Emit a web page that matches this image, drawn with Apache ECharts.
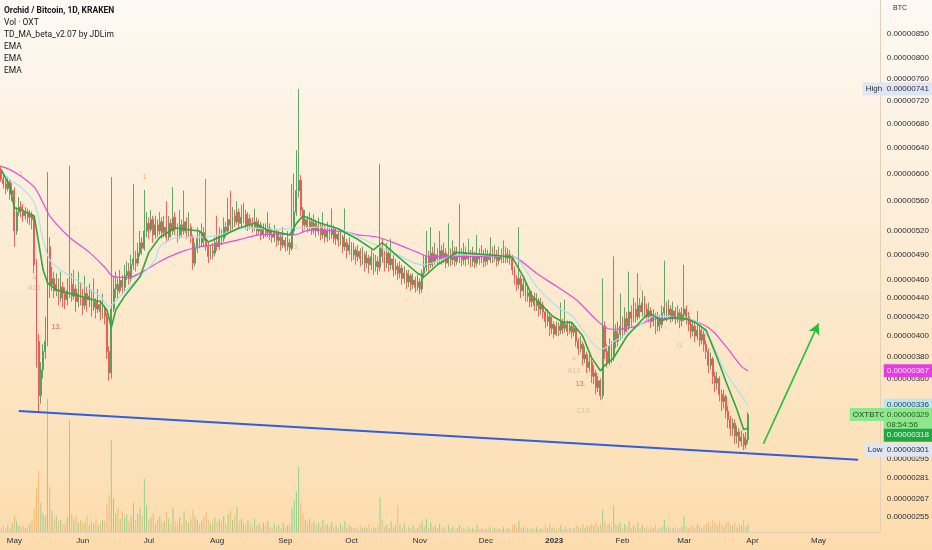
<!DOCTYPE html>
<html><head><meta charset="utf-8">
<script src="https://cdn.jsdelivr.net/npm/echarts@6/dist/echarts.min.js"></script>
<style>html,body{margin:0;padding:0;background:#fdf6ea}#c{width:932px;height:550px}</style>
</head><body><div id="c"></div><script>
// ---------- DATA (prices in units of 0.00000001 BTC) ----------
const startDay = '2022-04-25';
const firstOpen = 606;
const closes = [
592,585,578,588,570,575,520,545,552,548, 540,545,538,542,535,478,395,345,368,385,
395,500,455,462,448,455,440,452,445,438, 448,455,442,450,436,445,440,432,445,438,
442,430,436,428,433,425,428,420,385,365, 428,450,455,448,460,452,465,470,462,478,
485,480,492,505,498,520,530,522,535,515, 528,520,532,518,525,512,530,520,538,522,
515,528,520,532,518,525,512,480,498,510, 505,518,508,500,488,495,492,505,500,515,
510,525,520,535,528,540,532,545,530,538, 542,528,536,530,525,532,520,528,515,522,
518,524,515,512,518,508,512,502,508,500, 505,498,520,545,575,590,548,528,535,525,
532,522,530,520,526,515,522,512,520,515, 522,510,516,508,512,500,505,495,502,490,
496,488,494,485,490,480,486,478,488,476, 482,475,500,488,480,492,478,485,472,476,
468,474,462,468,458,465,455,460,452,458, 450,468,475,488,478,492,482,490,485,495,
486,492,480,490,484,494,482,488,490,484, 492,485,490,482,488,480,491,485,490,482,
488,484,492,486,490,483,488,485,491,486, 490,485,472,462,455,462,448,455,442,446,
436,440,432,436,428,432,425,415,420,408, 412,402,410,406,414,408,412,405,410,404,
408,395,388,392,378,382,370,375,362,365, 352,358,345,410,385,375,390,380,405,395,
402,410,405,418,410,425,418,428,420,432, 425,435,428,420,426,415,420,410,418,412,
424,430,422,428,420,426,418,424,416,422, 428,420,412,405,410,400,406,396,402,392,
385,372,378,362,356,360,346,340,344,332, 325,318,322,312,315,308,311,305,309,329];
const highs = [
612,598,590,596,592,586,580,552,566,560, 556,552,550,548,546,540,485,402,375,392,
420,602,512,475,470,468,462,470,458,452, 462,612,468,472,455,470,458,450,465,452,
456,448,462,440,450,438,445,432,424,390, 595,465,470,462,472,466,478,482,480,490,
585,495,505,520,512,576,545,538,548,540, 540,535,545,538,540,560,540,536,580,545,
530,548,535,575,538,545,530,515,505,525, 520,530,525,592,505,502,505,512,540,525,
522,538,532,565,575,552,548,560,550,555, 558,548,545,542,538,550,538,535,532,530,
530,545,530,522,528,522,520,515,525,512, 520,510,585,600,636,741,598,552,548,540,
545,538,542,535,538,530,545,528,532,528, 550,528,525,520,522,515,550,510,512,506,
505,500,502,498,500,494,495,490,496,492, 490,488,615,510,495,505,498,510,490,485,
480,482,478,476,472,472,468,468,464,466, 462,472,490,520,495,525,500,505,498,520,
502,505,498,530,498,508,500,500,556,498, 505,500,510,496,500,494,515,498,502,496,
498,496,512,500,502,496,500,498,508,500, 498,496,490,476,466,525,466,462,458,455,
450,448,446,445,440,440,436,428,428,424, 420,415,415,414,435,418,438,416,415,414,
412,410,398,400,395,390,385,382,378,372, 368,362,360,462,415,392,398,395,488,412,
415,445,420,430,425,470,432,440,435,468, 440,448,442,434,435,430,428,424,425,422,
432,483,436,438,432,436,430,432,428,430, 478,432,425,418,416,414,426,410,408,406,
396,388,384,380,366,366,362,350,350,346, 336,328,326,325,320,318,316,314,315,331];
const lows = [
588,578,570,574,562,560,500,515,540,538, 532,535,530,528,522,468,370,331,338,360,
378,390,440,448,440,442,432,436,430,428, 432,440,436,438,425,430,432,422,428,425,
430,420,426,418,424,416,418,412,378,358, 360,425,440,438,445,444,448,460,455,458,
472,470,476,488,490,495,512,510,518,505, 510,512,515,510,512,505,508,512,515,515,
505,510,512,515,510,512,505,472,476,492, 498,500,500,495,480,484,485,488,495,496,
502,506,512,515,520,522,525,528,524,525, 530,522,520,522,518,520,514,515,508,510,
512,512,508,505,506,500,502,495,498,494, 495,490,495,515,540,565,540,518,522,518,
520,515,516,512,514,508,510,505,506,508, 510,504,502,500,502,492,495,486,490,482,
484,478,482,476,478,470,474,468,472,466, 470,466,470,480,470,474,470,472,464,466,
460,462,455,456,450,452,448,450,446,448, 444,446,462,470,470,474,475,478,478,480,
478,480,474,476,476,478,476,478,480,476, 478,476,478,475,476,474,476,478,480,475,
476,478,480,480,482,476,478,480,480,480, 480,478,466,455,448,450,440,442,436,436,
430,430,426,426,420,422,418,408,410,400, 402,398,400,400,402,402,404,400,402,398,
400,390,382,384,372,374,365,366,356,355, 346,348,341,342,378,370,372,374,376,388,
390,396,398,402,404,406,410,414,414,416, 418,420,420,414,414,408,410,402,405,405,
408,418,415,418,414,415,412,414,408,410, 415,412,405,398,400,394,396,390,392,385,
378,365,368,355,348,350,340,332,334,326, 318,312,312,306,306,303,304,301,302,306];
const volumes = [
3,4,2,5,3,6,12,8,5,4, 5,3,4,6,9,18,33,46,22,14, 12,100,34,16,10,12,8,9,6,7,
11,84,14,10,12,7,9,6,8,12, 5,8,6,10,5,7,9,8,21,28, 69,25,14,18,10,16,11,13,8,12,
22,9,14,18,12,40,20,9,11,14, 6,9,12,7,8,15,10,6,18,8, 7,11,6,16,9,7,10,17,12,9,
6,8,12,15,9,6,8,11,7,10, 8,12,6,14,17,9,13,19,8,10, 7,5,9,6,4,10,5,6,4,7,
5,8,4,3,6,4,5,3,7,4, 5,6,18,24,30,49,22,14,9,7, 10,6,8,5,7,4,9,5,6,4,
7,4,5,3,6,4,8,3,5,4, 3,4,2,5,3,4,3,6,2,4, 3,5,26,9,4,6,3,8,4,5,
20,5,3,6,2,4,3,5,2,3, 6,8,4,10,3,7,4,5,3,6, 3,4,2,5,3,4,2,3,5,2,
3,2,4,2,3,2,5,2,3,2, 2,3,4,2,3,2,3,2,4,2, 3,2,5,6,4,8,3,4,2,3,
2,3,2,4,2,3,2,5,3,6, 3,4,2,3,5,2,4,2,3,2, 3,5,4,3,6,3,5,4,6,5,
7,4,6,17,8,5,6,4,20,6, 5,7,3,6,4,8,3,5,4,7, 3,5,3,4,2,4,3,5,2,3,
4,9,3,4,2,3,4,2,3,4, 12,4,3,5,4,3,6,4,3,5, 6,8,4,9,7,5,8,6,4,7,
8,6,5,7,4,6,5,9,4,6];
const priceTicks = [850,800,760,720,680,640,600,560,520,490,460,440,420,400,380,360,340,310,295,281,267,255];
const monthNames = ['Jan','Feb','Mar','Apr','May','Jun','Jul','Aug','Sep','Oct','Nov','Dec'];
const emaSlow = [['2022-04-25',611],['2022-04-29',606],['2022-05-04',596],['2022-05-10',580],['2022-05-14',558],['2022-05-17',540],['2022-05-26',512],['2022-06-04',493],['2022-06-11',475],['2022-06-15',464],['2022-06-22',463],['2022-06-27',468],['2022-07-01',474],['2022-07-06',482],['2022-07-15',493],['2022-07-24',500],['2022-08-02',503],['2022-08-11',509],['2022-08-20',515],['2022-08-29',516],['2022-09-05',515],['2022-09-12',521],['2022-09-16',521],['2022-09-30',518],['2022-10-04',515],['2022-10-13',512],['2022-10-22',503],['2022-10-31',493],['2022-11-05',488],['2022-11-14',488],['2022-12-11',488],['2022-12-15',486],['2022-12-24',468],['2023-01-02',453],['2023-01-11',438],['2023-01-20',417],['2023-01-25',408],['2023-01-29',407],['2023-02-07',410],['2023-02-16',418],['2023-02-25',418],['2023-03-06',415],['2023-03-13',407],['2023-03-20',390],['2023-03-27',371],['2023-03-30',367]];
const emaMid = [['2022-04-25',605],['2022-04-29',591],['2022-05-04',580],['2022-05-10',558],['2022-05-14',509],['2022-05-17',484],['2022-05-22',472],['2022-05-31',457],['2022-06-09',442],['2022-06-13',431],['2022-06-18',442],['2022-06-27',464],['2022-07-04',484],['2022-07-06',500],['2022-07-15',512],['2022-07-24',512],['2022-08-02',515],['2022-08-15',524],['2022-08-29',522],['2022-09-07',524],['2022-09-16',525],['2022-09-25',523],['2022-10-09',506],['2022-10-22',490],['2022-11-02',478],['2022-11-09',482],['2022-11-18',490],['2022-12-11',488],['2022-12-15',486],['2022-12-24',453],['2023-01-02',431],['2023-01-09',421],['2023-01-16',400],['2023-01-22',387],['2023-01-29',396],['2023-02-07',408],['2023-02-16',421],['2023-02-25',419],['2023-03-06',416],['2023-03-13',396],['2023-03-20',365],['2023-03-27',345],['2023-03-30',336]];
const emaFast = [['2022-04-25',606],['2022-04-29',580],['2022-05-01',551],['2022-05-04',548],['2022-05-10',540],['2022-05-12',505],['2022-05-14',472],['2022-05-16',457],['2022-05-20',449],['2022-05-31',442],['2022-06-09',436],['2022-06-12',427],['2022-06-14',409],['2022-06-16',427],['2022-06-20',442],['2022-06-27',464],['2022-07-01',493],['2022-07-06',512],['2022-07-13',524],['2022-07-24',520],['2022-07-28',506],['2022-08-02',512],['2022-08-11',524],['2022-08-18',530],['2022-08-24',521],['2022-09-03',515],['2022-09-06',530],['2022-09-09',540],['2022-09-16',531],['2022-09-25',523],['2022-10-04',509],['2022-10-11',496],['2022-10-15',505],['2022-10-22',488],['2022-10-31',468],['2022-11-03',464],['2022-11-09',478],['2022-11-18',493],['2022-12-11',488],['2022-12-13',487],['2022-12-18',464],['2022-12-22',442],['2022-12-27',431],['2022-12-31',421],['2023-01-05',414],['2023-01-09',414],['2023-01-14',400],['2023-01-18',379],['2023-01-22',367],['2023-01-24',372],['2023-01-28',379],['2023-02-03',400],['2023-02-10',417],['2023-02-13',424],['2023-02-19',416],['2023-02-23',419],['2023-03-02',418],['2023-03-06',414],['2023-03-11',406],['2023-03-16',379],['2023-03-20',357],['2023-03-25',333],['2023-03-28',317],['2023-03-30',318]];
const trendLine = [['2022-05-03',332],['2023-05-19',294]];
const arrowLine = [['2023-04-06',306],['2023-05-01',413]];
const highPrice = 741, lowPrice = 301, lastPrice = 329, slowLast = 367, midLast = 336, fastLast = 318;
const countdown = '08:54:56';
const tdMarks = [['2022-05-04',600,'1','setup'],['2022-05-10',462,'4','faint'],['2022-05-10',451,'A13','faint'],['2022-05-20',409,'13.','count'],['2022-06-29',595,'1','setup'],['2022-09-06',500,'3.','faint'],['2023-01-10',378,'4','faint'],['2023-01-10',367,'A13','faint'],['2023-01-13',355,'13.','count'],['2023-01-14',332,'C13','faint'],['2023-02-09',451,'1','faint'],['2023-02-27',390,'G','faint']];
const legendLines = ['Orchid / Bitcoin, 1D, KRAKEN','Vol · OXT','TD_MA_beta_v2.07 by JDLim','EMA','EMA','EMA'];

// ---------- BUILD ----------
const DAY = 86400000;
function utc(s){const p=s.split('-').map(Number);return Date.UTC(p[0],p[1]-1,p[2]);}
const t0 = utc(startDay);
const fmt = v => (v/1e8).toFixed(8);
const FONT = 'Liberation Sans, Arial, sans-serif';
const LFONT = 'Roboto, Liberation Sans, sans-serif';
const UP='#4f9c58', DN='#ef5350', VUP='#93d28c', VDN='#f6b873';
const candles = closes.map((c,i)=>{const o=i?closes[i-1]:firstOpen;return [t0+i*DAY,o,c,Math.min(lows[i],o,c),Math.max(highs[i],o,c)];});
const volData = volumes.map((v,i)=>({value:[t0+i*DAY,v],itemStyle:{color:candles[i][2]>=candles[i][1]?VUP:VDN}}));
const toPts = arr => arr.map(p=>[utc(p[0]),p[1]]);
const tdColor = {setup:'#f0a23c',count:'#e53935',faint:'#c9b9a6'};
const lbl = (extra)=>Object.assign({show:true,opacity:1,position:'end',distance:3,fontSize:8,fontFamily:FONT,padding:[2,3,1,3],lineHeight:10},extra);
const priceTags = [
  {yAxis:highPrice,label:lbl({formatter:'High',backgroundColor:'#dfe6f3',color:'#2a2e39',offset:[-21,0]})},
  {yAxis:highPrice,label:lbl({formatter:fmt(highPrice),backgroundColor:'#dfe6f3',color:'#2a2e39'})},
  {yAxis:slowLast,label:lbl({formatter:fmt(slowLast),backgroundColor:'#e43ee0',color:'#ffe6fd'})},
  {yAxis:midLast,label:lbl({formatter:fmt(midLast),backgroundColor:'#bce6ef',color:'#1d3b55',offset:[0,-1]})},
  {yAxis:lastPrice,label:lbl({formatter:'OXTBTC',backgroundColor:'#8fe78c',color:'#1c3d1c',offset:[-34,0]})},
  {yAxis:lastPrice,label:lbl({formatter:fmt(lastPrice)+'\n'+countdown,backgroundColor:'#8fe78c',color:'#1b5e20',offset:[0,5]})},
  {yAxis:fastLast,label:lbl({formatter:fmt(fastLast),backgroundColor:'#22a746',color:'#dcffdc',offset:[0,7]})},
  {yAxis:lowPrice,label:lbl({formatter:'Low',backgroundColor:'#dfe6f3',color:'#2a2e39',offset:[-19,0]})},
  {yAxis:lowPrice,label:lbl({formatter:fmt(lowPrice),backgroundColor:'#dfe6f3',color:'#2a2e39'})}
].map(d=>Object.assign(d,{lineStyle:{color:'rgba(0,0,0,0)',width:0}}));

const chart = echarts.init(document.getElementById('c'));
chart.setOption({
  animation:false,
  useUTC:true,
  backgroundColor:new echarts.graphic.LinearGradient(0,0,0,1,[{offset:0,color:'#fdf9f3'},{offset:1,color:'#fcdcad'}]),
  textStyle:{fontFamily:FONT},
  grid:{left:0,right:47,top:0,bottom:18},
  xAxis:{type:'time',min:t0-0.32*DAY,max:t0+399*DAY,minInterval:28*DAY,maxInterval:31*DAY,splitNumber:13,
    axisLine:{show:true,lineStyle:{color:'#e2d1b8'}},axisTick:{show:false},splitLine:{show:false},
    axisLabel:{fontSize:8,color:'#2a2e39',margin:5,hideOverlap:false,
      formatter:v=>{const d=new Date(v);return d.getUTCMonth()===0?'{b|'+d.getUTCFullYear()+'}':monthNames[d.getUTCMonth()];},
      rich:{b:{fontWeight:'bold',fontSize:8,color:'#2a2e39'}}}},
  yAxis:[
    {type:'log',position:'right',min:245.5,max:925,
      axisLine:{show:true,lineStyle:{color:'#e2d1b8'}},axisTick:{show:false},splitLine:{show:false},
      axisLabel:{customValues:priceTicks,fontSize:8,color:'#2a2e39',margin:6,formatter:v=>fmt(v)}},
    {type:'value',min:0,max:400,show:false}
  ],
  graphic:[
    ...legendLines.map((t,i)=>({type:'text',left:4,top:6+i*12,style:{text:t,fontSize:8.5,fontFamily:LFONT,fontWeight:i===0?'bold':'normal',fill:'#131722'}})),
    {type:'text',left:893,top:5,style:{text:'BTC',fontSize:7,fontFamily:FONT,fill:'#2a2e39'}}
  ],
  series:[
    {type:'bar',yAxisIndex:1,data:volData,barWidth:1,silent:true},
    {type:'line',data:toPts(emaSlow),symbol:'none',smooth:0.3,lineStyle:{color:'#dc4fe0',width:1.2},silent:true,
      markLine:{silent:true,symbol:'none',animation:false,data:[
        [{coord:[utc(trendLine[0][0]),trendLine[0][1]]},{coord:[utc(trendLine[1][0]),trendLine[1][1]]}]
      ],lineStyle:{color:'#2f5fe0',width:2,type:'solid'},label:{show:false}}},
    {type:'line',data:toPts(emaMid),symbol:'none',smooth:0.3,lineStyle:{color:'#a9e2ec',width:1.2},silent:true,
      markLine:{silent:true,symbol:['none','arrow'],symbolSize:[9,11],animation:false,data:[
        [{coord:[utc(arrowLine[0][0]),arrowLine[0][1]]},{coord:[utc(arrowLine[1][0]),arrowLine[1][1]]}]
      ],lineStyle:{color:'#24c03c',width:1.6,type:'solid'},label:{show:false}}},
    {type:'line',data:toPts(emaFast),symbol:'none',lineStyle:{color:'#2aa83a',width:1.6},silent:true},
    {type:'candlestick',data:candles,encode:{x:0,y:[1,2,3,4]},barWidth:1.4,clip:false,
      itemStyle:{color:UP,color0:DN,borderColor:UP,borderColor0:DN,borderWidth:0.9},
      markLine:{silent:true,symbol:'none',animation:false,z:20,data:priceTags}},
    {type:'scatter',symbolSize:0,silent:true,data:tdMarks.map(m=>({value:[utc(m[0]),m[1]],label:{show:true,position:'inside',formatter:m[2],fontSize:7,color:tdColor[m[3]]}}))}
  ]
});
</script></body></html>
